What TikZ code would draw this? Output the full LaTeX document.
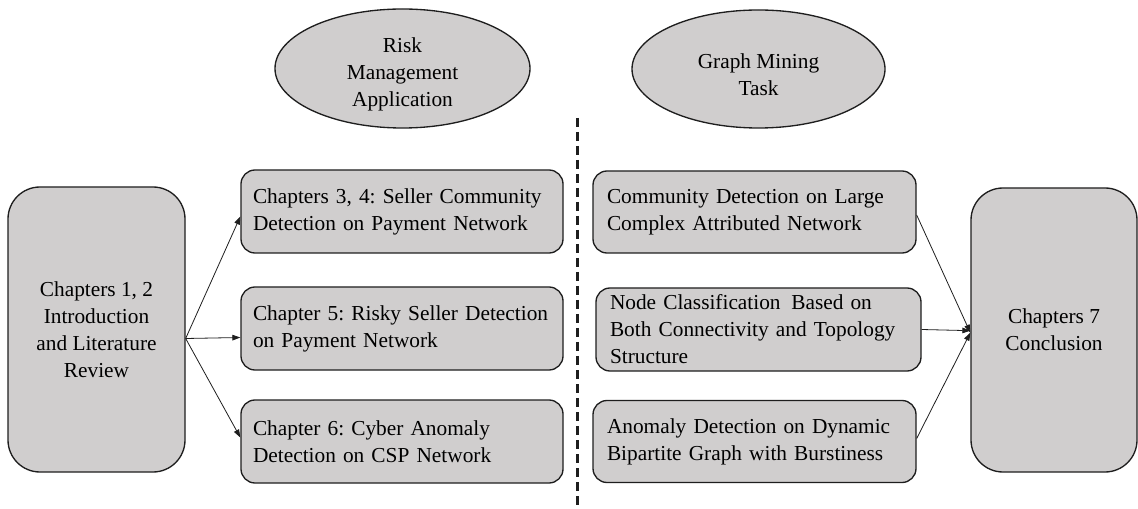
\documentclass[tikz,border=0pt]{standalone}
\usepackage{fontspec}
\setmainfont{Liberation Serif}
\usetikzlibrary{shapes.geometric,arrows.meta}
\definecolor{boxgray}{RGB}{208,206,206}
\definecolor{edge}{RGB}{30,30,30}
\frenchspacing
\hyphenpenalty=10000
\exhyphenpenalty=10000
\begin{document}
\begin{tikzpicture}[x=0.75pt,y=-0.75pt,
  txt/.style={font=\fontsize{16}{20.25}\selectfont},
  shade/.style={draw=edge, fill=boxgray, line width=1pt, txt},
  midbox/.style={shade, rounded corners=10.5pt, minimum width=241.5pt, minimum height=62.25pt,
     inner xsep=9pt, inner ysep=0pt, text width=223.5pt, align=left},
  rbox/.style={shade, rounded corners=10.5pt, minimum height=61.5pt,
     inner xsep=10.5pt, inner ysep=0pt, align=left},
  bigbox/.style={shade, rounded corners=24pt, inner sep=0pt, align=center},
  oval/.style={shade, ellipse, inner sep=0pt, align=center},
  ovaltext/.style={txt, align=center, inner sep=0pt, yshift=-4.5pt},
  conn/.style={draw=edge, line width=0.6pt, -{Triangle[length=6pt,width=4.2pt]}}
]
\useasboundingbox (0,0) rectangle (1138,509);

% header ellipses
\node[oval, minimum width=191.25pt, minimum height=89.25pt,
  label={[ovaltext]center:Risk\\Management\\Application}] (E1) at (402.5,68.5) {};
\node[oval, minimum width=189.75pt, minimum height=88.5pt,
  label={[ovaltext]center:Graph Mining\\Task}] (E2) at (758.5,69) {};

% dashed separator
\coordinate (dtop) at (577,118);
\coordinate (dbot) at (577,507);
\draw[edge, line width=2.25pt, dash pattern=on 6.75pt off 3.75pt] (dtop) -- (dbot);

% side boxes
\node[bigbox, minimum width=132.75pt, minimum height=213.75pt] (L) at (96.5,329.5)
  {Chapters 1, 2\\Introduction\\and Literature\\Review};
\node[bigbox, minimum width=124.5pt, minimum height=213pt] (R) at (1054,330)
  {Chapters 7\\Conclusion};

% middle column
\node[midbox] (M1) at (402,211.5) {Chapters 3, 4: Seller Community\\Detection on Payment Network};
\node[midbox] (M2) at (402,328.5) {Chapter 5: Risky Seller Detection\\on Payment Network};
\node[midbox] (M3) at (402,441.5) {Chapter 6: Cyber Anomaly\\Detection on CSP Network};

% right column
\node[rbox, minimum width=242.25pt, text width=221.25pt] (G1) at (754.5,212)
  {Community Detection on Large\\Complex Attributed Network};
\node[rbox, minimum width=243.75pt, minimum height=62.25pt, text width=222.75pt] (G2) at (758.5,329.5)
  {Node Classification\, Based on\\Both Connectivity and Topology\\Structure};
\node[rbox, minimum width=242.25pt, text width=221.25pt] (G3) at (754.5,441.5)
  {Anomaly Detection on Dynamic\\Bipartite Graph with Burstiness};

% connectors
\draw[conn] ([yshift=-6.75pt]L.east) -- ([yshift=-3.75pt]M1.west);
\draw[conn] ([yshift=-6.75pt]L.east) -- ([yshift=-6.75pt]M2.west);
\draw[conn] ([yshift=-6.75pt]L.east) -- ([yshift=3pt]M3.west);
\draw[conn] ([yshift=-2.25pt]G1.east) -- ([yshift=-2pt]R.west);
\draw[conn] (G2.east) -- ([yshift=-0.5pt]R.west);
\draw[conn] ([yshift=2.25pt]G3.east) -- ([yshift=-2pt]R.west);
\end{tikzpicture}
\end{document}
